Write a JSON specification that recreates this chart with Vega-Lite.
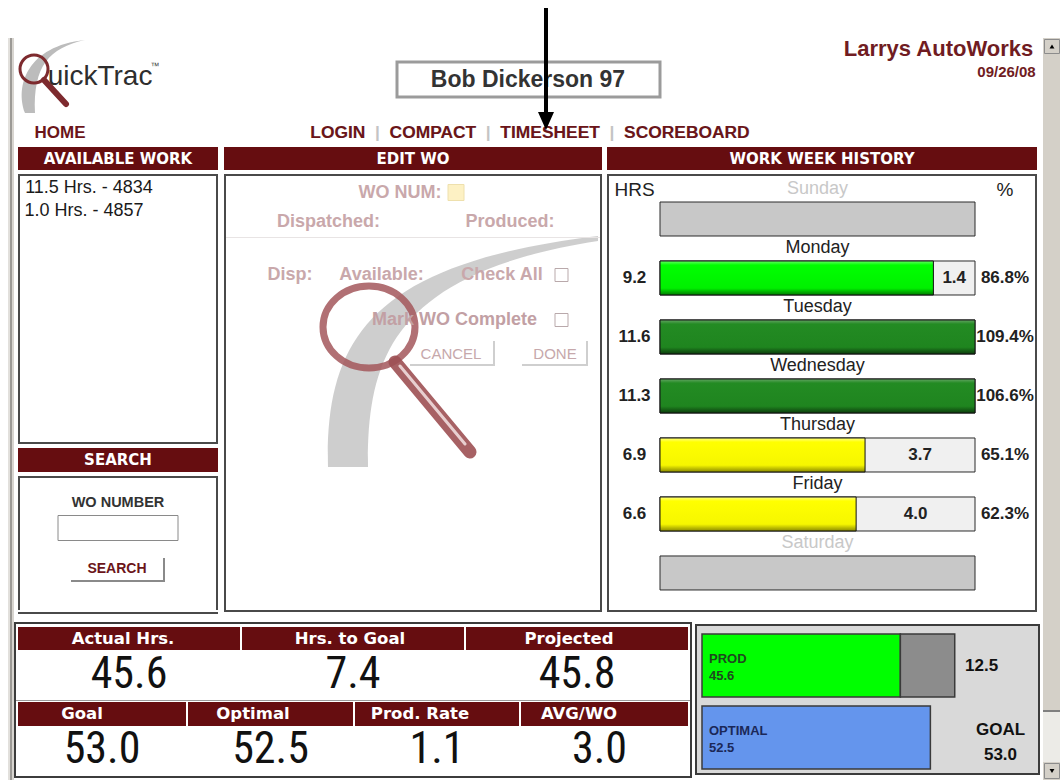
{
"$schema":"https://vega.github.io/schema/vega-lite/v6.json",
"padding":0,
"background":"#ffffff",
"config":{"view":{"stroke":null},"concat":{"spacing":0},"font":"Liberation Sans","text":{"font":"Liberation Sans"}},
"datasets":{
"week":[
{"day":"Sunday","hrs":null,"rem":null,"pct":null,"status":"off"},
{"day":"Monday","hrs":9.2,"rem":1.4,"pct":0.868,"status":"near"},
{"day":"Tuesday","hrs":11.6,"rem":null,"pct":1.094,"status":"over"},
{"day":"Wednesday","hrs":11.3,"rem":null,"pct":1.066,"status":"over"},
{"day":"Thursday","hrs":6.9,"rem":3.7,"pct":0.651,"status":"under"},
{"day":"Friday","hrs":6.6,"rem":4.0,"pct":0.623,"status":"under"},
{"day":"Saturday","hrs":null,"rem":null,"pct":null,"status":"off"}
],
"stats":[
{"metric":"Actual Hrs.","value":45.6},{"metric":"Hrs. to Goal","value":7.4},{"metric":"Projected","value":45.8},
{"metric":"Goal","value":53.0},{"metric":"Optimal","value":52.5},{"metric":"Prod. Rate","value":1.1},{"metric":"AVG/WO","value":3.0}
],
"gauge":[{"bar":"PROD","seg":"PROD","v":45.6},{"bar":"PROD","seg":"Available","v":12.5},{"bar":"OPTIMAL","seg":"OPTIMAL","v":52.5}]
},
"spacing":0,
"hconcat":[
{"spacing":0,"hconcat":[
 {"width":8,"height":780,"data":{"values":[]},"mark":"rect","encoding":{}},
 {"spacing":0,"vconcat":[
  {"width":6,"height":38,"data":{"values":[]},"mark":"rect","encoding":{}},
  {"spacing":0,"bounds":"flush","hconcat":[
   {"width":2,"height":742,"data":{"values":[{}]},"mark":{"type":"rect","fill":"#e2e0dc","strokeWidth":0},"encoding":{}},
   {"width":2,"height":742,"data":{"values":[{}]},"mark":{"type":"rect","fill":"#9c9a96","strokeWidth":0},"encoding":{}},
   {"width":2,"height":742,"data":{"values":[{}]},"mark":{"type":"rect","fill":"#d8d5d0","strokeWidth":0},"encoding":{}}
  ]}
 ]}
]},
{"spacing":0,"vconcat":[
 {"spacing":0,"hconcat":[
  {"spacing":0,"vconcat":[
   {"width":286,"height":38,"data":{"values":[]},"mark":"rect","encoding":{}},
   {"spacing":0,"bounds":"flush","hconcat":[
    {"width":4,"height":78,"data":{"values":[]},"mark":"rect","encoding":{}},
    {"width":158,"height":78,"data":{"values":[{"t":"uickTrac"}]},"layer":[
     {"mark":{"type":"point","shape":"M -72 36 C -82 9 -70 -31 -12 -37 C -48 -29 -64 -11 -62 36 Z","size":4,"filled":true,"fill":"#bcbcbc","strokeWidth":0,"opacity":1},"encoding":{}},
     {"mark":{"type":"point","shape":"M -49 -8 A 14 14 0 1 1 -77 -8 A 14 14 0 1 1 -49 -8 Z","size":4,"filled":false,"stroke":"#7d2a2e","strokeWidth":3,"opacity":1},"encoding":{}},
     {"mark":{"type":"point","shape":"M -53 3 L -31 27","size":4,"filled":false,"stroke":"#7d2a2e","strokeWidth":6,"strokeCap":"round","opacity":1},"encoding":{}},
     {"mark":{"type":"text","fontSize":28,"dx":3,"color":"#2e2e2e"},"encoding":{"text":{"field":"t"}}},
     {"mark":{"type":"text","text":"™","fontSize":9,"dx":58,"dy":-11,"color":"#444444"},"encoding":{}}
    ]},
    {"width":124,"height":78,"data":{"values":[]},"mark":"rect","encoding":{}}
   ]},
   {"width":286,"height":8,"data":{"values":[]},"mark":"rect","encoding":{}},
   {"spacing":0,"bounds":"flush","hconcat":[
    {"width":19,"height":18,"data":{"values":[]},"mark":"rect","encoding":{}},
    {"width":54,"height":18,"data":{"values":[{"t":"HOME"}]},"mark":{"type":"text","fontSize":17,"fontWeight":"bold","color":"#6b1519"},"encoding":{"text":{"field":"t"}}},
    {"width":213,"height":18,"data":{"values":[]},"mark":"rect","encoding":{}}
   ]},
   {"width":286,"height":4,"data":{"values":[]},"mark":"rect","encoding":{}}
  ]},
  {"spacing":0,"bounds":"flush","vconcat":[
   {"width":460,"height":62,"data":{"values":[]},"mark":"rect","encoding":{}},
   {"width":460,"height":35,"data":{"values":[{"t":"Bob Dickerson 97"}]},"layer":[
    {"mark":{"type":"point","shape":"M -133 -17.5 H 130 V 17.5 H -133 Z","size":4,"filled":true,"fill":"#ffffff","stroke":"#9b9b9b","strokeWidth":3,"opacity":1},"encoding":{}},
    {"mark":{"type":"text","fontSize":23,"fontWeight":"bold","color":"#333333","dx":-2},"encoding":{"text":{"field":"t"}}}
   ]},
   {"width":460,"height":27,"data":{"values":[]},"mark":"rect","encoding":{}},
   {"width":460,"height":18,"data":{"values":[{"sep":"LOGIN\u00a0\u00a0|\u00a0\u00a0COMPACT\u00a0\u00a0|\u00a0\u00a0TIMESHEET\u00a0\u00a0|\u00a0\u00a0SCOREBOARD","nav":"LOGIN\u00a0\u00a0\u00a0\u00a0\u00a0COMPACT\u00a0\u00a0\u00a0\u00a0\u00a0TIMESHEET\u00a0\u00a0\u00a0\u00a0\u00a0SCOREBOARD"}]},"layer":[
    {"mark":{"type":"text","fontSize":17.4,"fontWeight":"bold","color":"#c4c4c4"},"encoding":{"text":{"field":"sep"}}},
    {"mark":{"type":"text","fontSize":17.4,"fontWeight":"bold","color":"#6b1519"},"encoding":{"text":{"field":"nav"}}},
    {"mark":{"type":"point","shape":"M 14 -125 L 18 -125 L 18 -21 L 24 -21 L 16 -3 L 8 -21 L 14 -21 Z","size":4,"filled":true,"fill":"#000000","strokeWidth":0,"opacity":1},"encoding":{}}
   ]},
   {"width":460,"height":4,"data":{"values":[]},"mark":"rect","encoding":{}}
  ]},
  {"spacing":0,"vconcat":[
   {"width":282,"height":38,"data":{"values":[]},"mark":"rect","encoding":{}},
   {"spacing":0,"bounds":"flush","hconcat":[
    {"width":81,"height":22,"data":{"values":[]},"mark":"rect","encoding":{}},
    {"width":195,"height":22,"data":{"values":[{"t":"Larrys AutoWorks"}]},"mark":{"type":"text","fontSize":22,"fontWeight":"bold","color":"#701c22"},"encoding":{"text":{"field":"t"}}},
    {"width":6,"height":22,"data":{"values":[]},"mark":"rect","encoding":{}}
   ]},
   {"width":282,"height":4,"data":{"values":[]},"mark":"rect","encoding":{}},
   {"spacing":0,"bounds":"flush","hconcat":[
    {"width":216,"height":16,"data":{"values":[]},"mark":"rect","encoding":{}},
    {"width":61,"height":16,"data":{"values":[{"t":"09/26/08"}]},"mark":{"type":"text","fontSize":15,"fontWeight":"bold","color":"#701c22"},"encoding":{"text":{"field":"t"}}},
    {"width":5,"height":16,"data":{"values":[]},"mark":"rect","encoding":{}}
   ]},
   {"width":282,"height":66,"data":{"values":[]},"mark":"rect","encoding":{}}
  ]}
 ]},
 {"spacing":0,"hconcat":[
  {"width":4,"height":468,"data":{"values":[]},"mark":"rect","encoding":{}},
  {"spacing":0,"vconcat":[
   {"width":200,"height":1,"data":{"values":[]},"mark":"rect","encoding":{}},
   {"width":200,"height":23,"data":{"values":[{"t":"AVAILABLE WORK"}]},"layer":[{"mark":{"type":"rect","fill":"#660d10","strokeWidth":0},"encoding":{}},{"mark":{"type":"text","font":"DejaVu Sans","fontWeight":"bold","fontSize":15,"color":"#ffffff"},"encoding":{"text":{"field":"t"}}}]},
   {"width":200,"height":4,"data":{"values":[]},"mark":"rect","encoding":{}},
   {"spacing":0,"vconcat":[
    {"width":200,"height":2,"data":{"values":[{}]},"mark":{"type":"rect","fill":"#4a4a4a","strokeWidth":0},"encoding":{}},
    {"spacing":0,"hconcat":[
     {"width":2,"height":266,"data":{"values":[{}]},"mark":{"type":"rect","fill":"#4a4a4a","strokeWidth":0},"encoding":{}},
     {"spacing":0,"vconcat":[
      {"width":196,"height":3,"data":{"values":[]},"mark":"rect","encoding":{}},
      {"spacing":0,"bounds":"flush","hconcat":[
       {"width":3,"height":18,"data":{"values":[]},"mark":"rect","encoding":{}},
       {"width":132,"height":18,"data":{"values":[{"job":"11.5 Hrs. - 4834"}]},"mark":{"type":"text","fontSize":18,"color":"#1a1a1a"},"encoding":{"text":{"field":"job"}}},
       {"width":61,"height":18,"data":{"values":[]},"mark":"rect","encoding":{}}
      ]},
      {"width":196,"height":5,"data":{"values":[]},"mark":"rect","encoding":{}},
      {"spacing":0,"bounds":"flush","hconcat":[
       {"width":3,"height":18,"data":{"values":[]},"mark":"rect","encoding":{}},
       {"width":122,"height":18,"data":{"values":[{"job":"1.0 Hrs. - 4857"}]},"mark":{"type":"text","fontSize":18,"color":"#1a1a1a"},"encoding":{"text":{"field":"job"}}},
       {"width":71,"height":18,"data":{"values":[]},"mark":"rect","encoding":{}}
      ]},
      {"width":196,"height":222,"data":{"values":[]},"mark":"rect","encoding":{}}
     ]},
     {"width":2,"height":266,"data":{"values":[{}]},"mark":{"type":"rect","fill":"#4a4a4a","strokeWidth":0},"encoding":{}}
    ]},
    {"width":200,"height":2,"data":{"values":[{}]},"mark":{"type":"rect","fill":"#4a4a4a","strokeWidth":0},"encoding":{}}
   ]},
   {"width":200,"height":4,"data":{"values":[]},"mark":"rect","encoding":{}},
   {"width":200,"height":24,"data":{"values":[{"t":"SEARCH"}]},"layer":[{"mark":{"type":"rect","fill":"#660d10","strokeWidth":0},"encoding":{}},{"mark":{"type":"text","font":"DejaVu Sans","fontWeight":"bold","fontSize":15,"color":"#ffffff"},"encoding":{"text":{"field":"t"}}}]},
   {"width":200,"height":4,"data":{"values":[]},"mark":"rect","encoding":{}},
   {"spacing":0,"vconcat":[
    {"width":200,"height":2,"data":{"values":[{}]},"mark":{"type":"rect","fill":"#4a4a4a","strokeWidth":0},"encoding":{}},
    {"spacing":0,"hconcat":[
     {"width":2,"height":132,"data":{"values":[{}]},"mark":{"type":"rect","fill":"#4a4a4a","strokeWidth":0},"encoding":{}},
     {"spacing":0,"vconcat":[
      {"width":196,"height":17,"data":{"values":[]},"mark":"rect","encoding":{}},
      {"width":196,"height":16,"data":{"values":[{"t":"WO NUMBER"}]},"mark":{"type":"text","fontSize":14.5,"fontWeight":"bold","color":"#333333"},"encoding":{"text":{"field":"t"}}},
      {"width":196,"height":2,"data":{"values":[]},"mark":"rect","encoding":{}},
      {"width":196,"height":28,"data":{"values":[{}]},"mark":{"type":"point","shape":"M -60 -12.5 H 60 V 12.5 H -60 Z","size":4,"filled":true,"fill":"#ffffff","stroke":"#8a8a8a","strokeWidth":1,"opacity":1},"encoding":{}},
      {"width":196,"height":15,"data":{"values":[]},"mark":"rect","encoding":{}},
      {"spacing":0,"hconcat":[
       {"width":51,"height":24,"data":{"values":[]},"mark":"rect","encoding":{}},
       {"spacing":0,"vconcat":[
        {"spacing":0,"bounds":"flush","hconcat":[
         {"width":92,"height":22,"data":{"values":[{"t":"SEARCH"}]},"mark":{"type":"text","fontSize":14,"fontWeight":"bold","color":"#6b1519"},"encoding":{"text":{"field":"t"}}},
         {"width":2,"height":22,"data":{"values":[{}]},"mark":{"type":"rect","fill":"#8a8a8a","strokeWidth":0},"encoding":{}}
        ]},
        {"width":94,"height":2,"data":{"values":[{}]},"mark":{"type":"rect","fill":"#8a8a8a","strokeWidth":0},"encoding":{}}
       ]},
       {"width":51,"height":24,"data":{"values":[]},"mark":"rect","encoding":{}}
      ]},
      {"width":196,"height":30,"data":{"values":[]},"mark":"rect","encoding":{}}
     ]},
     {"width":2,"height":132,"data":{"values":[{}]},"mark":{"type":"rect","fill":"#4a4a4a","strokeWidth":0},"encoding":{}}
    ]},
    {"width":200,"height":2,"data":{"values":[{}]},"mark":{"type":"rect","fill":"#4a4a4a","strokeWidth":0},"encoding":{}}
   ]},
   {"width":200,"height":2,"data":{"values":[]},"mark":"rect","encoding":{}}
  ]},
  {"width":6,"height":468,"data":{"values":[]},"mark":"rect","encoding":{}},
  {"spacing":0,"vconcat":[
   {"width":378,"height":1,"data":{"values":[]},"mark":"rect","encoding":{}},
   {"width":378,"height":23,"data":{"values":[{"t":"EDIT WO"}]},"layer":[{"mark":{"type":"rect","fill":"#660d10","strokeWidth":0},"encoding":{}},{"mark":{"type":"text","font":"DejaVu Sans","fontWeight":"bold","fontSize":15,"color":"#ffffff"},"encoding":{"text":{"field":"t"}}}]},
   {"width":378,"height":4,"data":{"values":[]},"mark":"rect","encoding":{}},
   {"spacing":0,"vconcat":[
    {"width":378,"height":2,"data":{"values":[{}]},"mark":{"type":"rect","fill":"#4a4a4a","strokeWidth":0},"encoding":{}},
    {"spacing":0,"hconcat":[
     {"width":2,"height":434,"data":{"values":[{}]},"mark":{"type":"rect","fill":"#4a4a4a","strokeWidth":0},"encoding":{}},
     {"spacing":0,"bounds":"flush","vconcat":[
      {"width":374,"height":8,"data":{"values":[{}]},"layer":[
       {"mark":{"type":"point","shape":"M -85 287 C -88 158 -40 83 185 56 L 185 61 C -20 93 -46 178 -45 287 Z","size":4,"filled":true,"fill":"#c9c9c9","strokeWidth":0,"opacity":0.9},"encoding":{}},
       {"mark":{"type":"point","shape":"M 2 147 A 46 41 0 1 1 -90 147 A 46 41 0 1 1 2 147 Z","size":4,"filled":false,"stroke":"#a4585c","strokeWidth":7,"opacity":0.85},"encoding":{}},
       {"mark":{"type":"point","shape":"M -18 182 L 57 272","size":4,"filled":false,"stroke":"#9e5054","strokeWidth":13,"strokeCap":"round","opacity":0.9},"encoding":{}},
       {"mark":{"type":"point","shape":"M -13 186 L 52 264","size":4,"filled":false,"stroke":"#f0dcdc","strokeWidth":3,"strokeCap":"round","opacity":0.9},"encoding":{}}
      ]},
      {"width":374,"height":17,"data":{"values":[{"t":"WO NUM:"}]},"layer":[
       {"mark":{"type":"text","dx":-13,"fontSize":18,"fontWeight":"bold","color":"#c9a8ab"},"encoding":{"text":{"field":"t"}}},
       {"mark":{"type":"point","shape":"M 35 -8 H 51 V 8 H 35 Z","size":4,"filled":true,"fill":"#fdf1c4","stroke":"#eee0ad","strokeWidth":1,"opacity":1},"encoding":{}}
      ]},
      {"width":374,"height":12,"data":{"values":[]},"mark":"rect","encoding":{}},
      {"width":374,"height":18,"layer":[
       {"data":{"values":[{"t":"Dispatched:"}]},"mark":{"type":"text","dx":-84.5,"fontSize":18,"fontWeight":"bold","color":"#c9a8ab"},"encoding":{"text":{"field":"t"}}},
       {"data":{"values":[{"t":"Produced:"}]},"mark":{"type":"text","dx":97,"fontSize":18,"fontWeight":"bold","color":"#c9a8ab"},"encoding":{"text":{"field":"t"}}}
      ]},
      {"width":374,"height":6,"data":{"values":[]},"mark":"rect","encoding":{}},
      {"width":374,"height":1,"data":{"values":[{}]},"mark":{"type":"rect","fill":"#e8e4e4","strokeWidth":0},"encoding":{}},
      {"width":374,"height":28,"data":{"values":[]},"mark":"rect","encoding":{}},
      {"width":374,"height":18,"layer":[
       {"data":{"values":[{"t":"Disp:"}]},"mark":{"type":"text","dx":-123,"fontSize":18,"fontWeight":"bold","color":"#c9a8ab"},"encoding":{"text":{"field":"t"}}},
       {"data":{"values":[{"t":"Available:"}]},"mark":{"type":"text","dx":-31.5,"fontSize":18,"fontWeight":"bold","color":"#c9a8ab"},"encoding":{"text":{"field":"t"}}},
       {"data":{"values":[{"t":"Check All"}]},"mark":{"type":"text","dx":89,"fontSize":18,"fontWeight":"bold","color":"#c9a8ab"},"encoding":{"text":{"field":"t"}}},
       {"data":{"values":[{}]},"mark":{"type":"point","shape":"M 142 -6.5 H 155 V 6.5 H 142 Z","size":4,"filled":true,"fill":"#ffffff","stroke":"#b9a9ab","strokeWidth":1,"opacity":1},"encoding":{}}
      ]},
      {"width":374,"height":27,"data":{"values":[]},"mark":"rect","encoding":{}},
      {"width":374,"height":18,"layer":[
       {"data":{"values":[{"t":"Mark WO Complete"}]},"mark":{"type":"text","dx":41.5,"fontSize":18,"fontWeight":"bold","color":"#c2a0a4"},"encoding":{"text":{"field":"t"}}},
       {"data":{"values":[{}]},"mark":{"type":"point","shape":"M 142 -6.5 H 155 V 6.5 H 142 Z","size":4,"filled":true,"fill":"#ffffff","stroke":"#b9a9ab","strokeWidth":1,"opacity":1},"encoding":{}}
      ]},
      {"width":374,"height":12,"data":{"values":[]},"mark":"rect","encoding":{}},
      {"width":374,"height":25,"layer":[
       {"data":{"values":[{}]},"mark":{"type":"point","shape":"M 80 -12.5 H 82 V 12.5 H 80 Z M -3 10.5 H 82 V 12.5 H -3 Z M 173 -12.5 H 175 V 12.5 H 173 Z M 109 10.5 H 175 V 12.5 H 109 Z","size":4,"filled":true,"fill":"#cfcfcf","strokeWidth":0,"opacity":1},"encoding":{}},
       {"data":{"values":[{"t":"CANCEL"}]},"mark":{"type":"text","dx":38,"fontSize":15,"color":"#c6a8ab"},"encoding":{"text":{"field":"t"}}},
       {"data":{"values":[{"t":"DONE"}]},"mark":{"type":"text","dx":142,"fontSize":15,"color":"#c6a8ab"},"encoding":{"text":{"field":"t"}}}
      ]},
      {"width":374,"height":244,"data":{"values":[]},"mark":"rect","encoding":{}}
     ]},
     {"width":2,"height":434,"data":{"values":[{}]},"mark":{"type":"rect","fill":"#4a4a4a","strokeWidth":0},"encoding":{}}
    ]},
    {"width":378,"height":2,"data":{"values":[{}]},"mark":{"type":"rect","fill":"#4a4a4a","strokeWidth":0},"encoding":{}}
   ]},
   {"width":378,"height":2,"data":{"values":[]},"mark":"rect","encoding":{}}
  ]},
  {"width":5,"height":468,"data":{"values":[]},"mark":"rect","encoding":{}},
  {"spacing":0,"vconcat":[
   {"width":430,"height":1,"data":{"values":[]},"mark":"rect","encoding":{}},
   {"width":430,"height":23,"data":{"values":[{"t":"WORK WEEK HISTORY"}]},"layer":[{"mark":{"type":"rect","fill":"#660d10","strokeWidth":0},"encoding":{}},{"mark":{"type":"text","font":"DejaVu Sans","fontWeight":"bold","fontSize":15,"color":"#ffffff"},"encoding":{"text":{"field":"t"}}}]},
   {"width":430,"height":4,"data":{"values":[]},"mark":"rect","encoding":{}},
   {"spacing":0,"vconcat":[
    {"width":430,"height":2,"data":{"values":[{}]},"mark":{"type":"rect","fill":"#4a4a4a","strokeWidth":0},"encoding":{}},
    {"spacing":0,"bounds":"flush","hconcat":[
     {"width":2,"height":434,"data":{"values":[{}]},"mark":{"type":"rect","fill":"#4a4a4a","strokeWidth":0},"encoding":{}},
     {"width":51,"height":434,"data":{"name":"week"},"layer":[
      {"transform":[{"filter":"datum.hrs != null"}],"mark":{"type":"text","fontSize":17,"fontWeight":"bold","color":"#222222"},"encoding":{"y":{"field":"day","type":"nominal","sort":null,"axis":null,"scale":{"type":"band","domain":["Sunday","Monday","Tuesday","Wednesday","Thursday","Friday","Saturday"],"paddingInner":0.4237,"paddingOuter":0.39,"align":0.565}},"text":{"field":"hrs","type":"quantitative","format":".1f"}}},
      {"transform":[{"filter":"datum.day === 'Sunday'"}],"mark":{"type":"text","fontSize":19,"dy":-29,"color":"#222222"},"encoding":{"y":{"field":"day","type":"nominal","sort":null,"axis":null,"scale":{"type":"band","domain":["Sunday","Monday","Tuesday","Wednesday","Thursday","Friday","Saturday"],"paddingInner":0.4237,"paddingOuter":0.39,"align":0.565}},"text":{"value":"HRS"}}}
     ]},
     {"width":315,"height":434,"data":{"name":"week"},"layer":[
      {"mark":{"type":"rect","stroke":"#2b2b2b","strokeWidth":1},"encoding":{"y":{"field":"day","type":"nominal","sort":null,"axis":null,"scale":{"type":"band","domain":["Sunday","Monday","Tuesday","Wednesday","Thursday","Friday","Saturday"],"paddingInner":0.4237,"paddingOuter":0.39,"align":0.565}},"fill":{"condition":{"test":"datum.status === 'off'","value":"#c8c8c8"},"value":"#f0f0f0"}}},
      {"transform":[{"filter":"datum.status === 'near'"}],"mark":{"type":"bar","stroke":"#111111","strokeWidth":1,"fill":{"gradient":"linear","x1":0,"y1":0,"x2":0,"y2":1,"stops":[{"offset":0,"color":"#66ff66"},{"offset":0.12,"color":"#00ff00"},{"offset":0.8,"color":"#00f000"},{"offset":1,"color":"#007a00"}]}},"encoding":{"y":{"field":"day","type":"nominal","sort":null,"axis":null,"scale":{"type":"band","domain":["Sunday","Monday","Tuesday","Wednesday","Thursday","Friday","Saturday"],"paddingInner":0.4237,"paddingOuter":0.39,"align":0.565}},"x":{"field":"hrs","type":"quantitative","axis":null,"scale":{"domain":[0,10.6],"clamp":true,"nice":false,"zero":true}}}},
      {"transform":[{"filter":"datum.status === 'over'"}],"mark":{"type":"bar","stroke":"#111111","strokeWidth":1,"fill":{"gradient":"linear","x1":0,"y1":0,"x2":0,"y2":1,"stops":[{"offset":0,"color":"#64a564"},{"offset":0.12,"color":"#238b23"},{"offset":0.8,"color":"#1f851f"},{"offset":1,"color":"#0c3c0c"}]}},"encoding":{"y":{"field":"day","type":"nominal","sort":null,"axis":null,"scale":{"type":"band","domain":["Sunday","Monday","Tuesday","Wednesday","Thursday","Friday","Saturday"],"paddingInner":0.4237,"paddingOuter":0.39,"align":0.565}},"x":{"field":"hrs","type":"quantitative","axis":null,"scale":{"domain":[0,10.6],"clamp":true,"nice":false,"zero":true}}}},
      {"transform":[{"filter":"datum.status === 'under'"}],"mark":{"type":"bar","stroke":"#111111","strokeWidth":1,"fill":{"gradient":"linear","x1":0,"y1":0,"x2":0,"y2":1,"stops":[{"offset":0,"color":"#ffff88"},{"offset":0.12,"color":"#ffff00"},{"offset":0.8,"color":"#f6f600"},{"offset":1,"color":"#8a8a00"}]}},"encoding":{"y":{"field":"day","type":"nominal","sort":null,"axis":null,"scale":{"type":"band","domain":["Sunday","Monday","Tuesday","Wednesday","Thursday","Friday","Saturday"],"paddingInner":0.4237,"paddingOuter":0.39,"align":0.565}},"x":{"field":"hrs","type":"quantitative","axis":null,"scale":{"domain":[0,10.6],"clamp":true,"nice":false,"zero":true}}}},
      {"transform":[{"filter":"datum.hrs != null"},{"fold":["hrs","rem"],"as":["seg","v"]},{"filter":"datum.v != null"}],"mark":{"type":"text","fontSize":17,"fontWeight":"bold","color":"#222222"},"encoding":{"y":{"field":"day","type":"nominal","sort":null,"axis":null,"scale":{"type":"band","domain":["Sunday","Monday","Tuesday","Wednesday","Thursday","Friday","Saturday"],"paddingInner":0.4237,"paddingOuter":0.39,"align":0.565}},"x":{"field":"v","type":"quantitative","stack":"zero","bandPosition":0.5,"axis":null,"scale":{"domain":[0,10.6],"clamp":true,"nice":false,"zero":true}},"detail":{"field":"seg"},"order":{"field":"seg","type":"ordinal","sort":"ascending"},"text":{"condition":{"test":"datum.seg === 'rem'","field":"v","type":"quantitative","format":".1f"},"value":""}}},
      {"mark":{"type":"text","fontSize":18,"dy":-30},"encoding":{"y":{"field":"day","type":"nominal","sort":null,"axis":null,"scale":{"type":"band","domain":["Sunday","Monday","Tuesday","Wednesday","Thursday","Friday","Saturday"],"paddingInner":0.4237,"paddingOuter":0.39,"align":0.565}},"text":{"field":"day"},"color":{"condition":{"test":"datum.status === 'off'","value":"#c8c8c8"},"value":"#222222"}}}
     ]},
     {"width":60,"height":434,"data":{"name":"week"},"layer":[
      {"transform":[{"filter":"datum.pct != null"}],"mark":{"type":"text","fontSize":17,"fontWeight":"bold","color":"#222222"},"encoding":{"y":{"field":"day","type":"nominal","sort":null,"axis":null,"scale":{"type":"band","domain":["Sunday","Monday","Tuesday","Wednesday","Thursday","Friday","Saturday"],"paddingInner":0.4237,"paddingOuter":0.39,"align":0.565}},"text":{"field":"pct","type":"quantitative","format":".1%"}}},
      {"transform":[{"filter":"datum.day === 'Sunday'"}],"mark":{"type":"text","fontSize":19,"dy":-29,"color":"#222222"},"encoding":{"y":{"field":"day","type":"nominal","sort":null,"axis":null,"scale":{"type":"band","domain":["Sunday","Monday","Tuesday","Wednesday","Thursday","Friday","Saturday"],"paddingInner":0.4237,"paddingOuter":0.39,"align":0.565}},"text":{"value":"%"}}}
     ]},
     {"width":2,"height":434,"data":{"values":[{}]},"mark":{"type":"rect","fill":"#4a4a4a","strokeWidth":0},"encoding":{}}
    ]},
    {"width":430,"height":2,"data":{"values":[{}]},"mark":{"type":"rect","fill":"#4a4a4a","strokeWidth":0},"encoding":{}}
   ]},
   {"width":430,"height":2,"data":{"values":[]},"mark":"rect","encoding":{}}
  ]},
  {"width":5,"height":468,"data":{"values":[]},"mark":"rect","encoding":{}}
 ]},
 {"spacing":0,"hconcat":[
  {"spacing":0,"vconcat":[
   {"width":678,"height":6,"data":{"values":[]},"mark":"rect","encoding":{}},
   {"width":678,"height":2,"data":{"values":[{}]},"mark":{"type":"rect","fill":"#3c3c3c","strokeWidth":0},"encoding":{}},
   {"spacing":0,"hconcat":[
    {"width":2,"height":152,"data":{"values":[{}]},"mark":{"type":"rect","fill":"#3c3c3c","strokeWidth":0},"encoding":{}},
    {"spacing":0,"vconcat":[
     {"width":674,"height":3,"data":{"values":[]},"mark":"rect","encoding":{}},
     {"spacing":0,"bounds":"flush","hconcat":[
      {"width":2,"height":23,"data":{"values":[]},"mark":"rect","encoding":{}},
      {"width":210,"height":23,"data":{"values":[{"t":"Actual Hrs."}]},"layer":[{"mark":{"type":"rect","fill":"#660d10","strokeWidth":0},"encoding":{}},{"mark":{"type":"text","font":"DejaVu Sans","fontWeight":"bold","fontSize":16.5,"color":"#ffffff"},"encoding":{"text":{"field":"t"}}}]},
      {"width":12,"height":23,"data":{"values":[{}]},"mark":{"type":"rect","fill":"#660d10","strokeWidth":0},"encoding":{}},
      {"width":2,"height":23,"data":{"values":[]},"mark":"rect","encoding":{}},
      {"width":216,"height":23,"data":{"values":[{"t":"Hrs. to Goal"}]},"layer":[{"mark":{"type":"rect","fill":"#660d10","strokeWidth":0},"encoding":{}},{"mark":{"type":"text","font":"DejaVu Sans","fontWeight":"bold","fontSize":16.5,"color":"#ffffff"},"encoding":{"text":{"field":"t"}}}]},
      {"width":6,"height":23,"data":{"values":[{}]},"mark":{"type":"rect","fill":"#660d10","strokeWidth":0},"encoding":{}},
      {"width":2,"height":23,"data":{"values":[]},"mark":"rect","encoding":{}},
      {"width":206,"height":23,"data":{"values":[{"t":"Projected"}]},"layer":[{"mark":{"type":"rect","fill":"#660d10","strokeWidth":0},"encoding":{}},{"mark":{"type":"text","font":"DejaVu Sans","fontWeight":"bold","fontSize":16.5,"color":"#ffffff"},"encoding":{"text":{"field":"t"}}}]},
      {"width":16,"height":23,"data":{"values":[{}]},"mark":{"type":"rect","fill":"#660d10","strokeWidth":0},"encoding":{}},
      {"width":2,"height":23,"data":{"values":[]},"mark":"rect","encoding":{}}
     ]},
     {"spacing":0,"bounds":"flush","hconcat":[
      {"width":2,"height":49,"data":{"values":[]},"mark":"rect","encoding":{}},
      {"width":222,"height":49,"data":{"name":"stats"},"transform":[{"filter":"datum.metric === 'Actual Hrs.'"}],"mark":{"type":"text","font":"Liberation Sans Narrow, Arial Narrow, Noto Sans Condensed, Noto Sans SemiCondensed, Roboto Condensed, DejaVu Sans Condensed","fontSize":44,"color":"#111111"},"encoding":{"text":{"field":"value","type":"quantitative","format":".1f"}}},
      {"width":2,"height":49,"data":{"values":[]},"mark":"rect","encoding":{}},
      {"width":222,"height":49,"data":{"name":"stats"},"transform":[{"filter":"datum.metric === 'Hrs. to Goal'"}],"mark":{"type":"text","font":"Liberation Sans Narrow, Arial Narrow, Noto Sans Condensed, Noto Sans SemiCondensed, Roboto Condensed, DejaVu Sans Condensed","fontSize":44,"color":"#111111"},"encoding":{"text":{"field":"value","type":"quantitative","format":".1f"}}},
      {"width":2,"height":49,"data":{"values":[]},"mark":"rect","encoding":{}},
      {"width":222,"height":49,"data":{"name":"stats"},"transform":[{"filter":"datum.metric === 'Projected'"}],"mark":{"type":"text","font":"Liberation Sans Narrow, Arial Narrow, Noto Sans Condensed, Noto Sans SemiCondensed, Roboto Condensed, DejaVu Sans Condensed","fontSize":44,"color":"#111111"},"encoding":{"text":{"field":"value","type":"quantitative","format":".1f"}}},
      {"width":2,"height":49,"data":{"values":[]},"mark":"rect","encoding":{}}
     ]},
     {"width":674,"height":1,"data":{"values":[]},"mark":"rect","encoding":{}},
     {"width":674,"height":1,"data":{"values":[{}]},"mark":{"type":"rect","fill":"#9a9a9a","strokeWidth":0},"encoding":{}},
     {"width":674,"height":1,"data":{"values":[]},"mark":"rect","encoding":{}},
     {"spacing":0,"bounds":"flush","hconcat":[
      {"width":2,"height":24,"data":{"values":[]},"mark":"rect","encoding":{}},
      {"width":128,"height":24,"data":{"values":[{"t":"Goal"}]},"layer":[{"mark":{"type":"rect","fill":"#660d10","strokeWidth":0},"encoding":{}},{"mark":{"type":"text","font":"DejaVu Sans","fontWeight":"bold","fontSize":16.5,"color":"#ffffff"},"encoding":{"text":{"field":"t"}}}]},
      {"width":40,"height":24,"data":{"values":[{}]},"mark":{"type":"rect","fill":"#660d10","strokeWidth":0},"encoding":{}},
      {"width":2,"height":24,"data":{"values":[]},"mark":"rect","encoding":{}},
      {"width":130,"height":24,"data":{"values":[{"t":"Optimal"}]},"layer":[{"mark":{"type":"rect","fill":"#660d10","strokeWidth":0},"encoding":{}},{"mark":{"type":"text","font":"DejaVu Sans","fontWeight":"bold","fontSize":16.5,"color":"#ffffff"},"encoding":{"text":{"field":"t"}}}]},
      {"width":35,"height":24,"data":{"values":[{}]},"mark":{"type":"rect","fill":"#660d10","strokeWidth":0},"encoding":{}},
      {"width":2,"height":24,"data":{"values":[]},"mark":"rect","encoding":{}},
      {"width":130,"height":24,"data":{"values":[{"t":"Prod. Rate"}]},"layer":[{"mark":{"type":"rect","fill":"#660d10","strokeWidth":0},"encoding":{}},{"mark":{"type":"text","font":"DejaVu Sans","fontWeight":"bold","fontSize":16.5,"color":"#ffffff"},"encoding":{"text":{"field":"t"}}}]},
      {"width":34,"height":24,"data":{"values":[{}]},"mark":{"type":"rect","fill":"#660d10","strokeWidth":0},"encoding":{}},
      {"width":2,"height":24,"data":{"values":[]},"mark":"rect","encoding":{}},
      {"width":116,"height":24,"data":{"values":[{"t":"AVG/WO"}]},"layer":[{"mark":{"type":"rect","fill":"#660d10","strokeWidth":0},"encoding":{}},{"mark":{"type":"text","font":"DejaVu Sans","fontWeight":"bold","fontSize":16.5,"color":"#ffffff"},"encoding":{"text":{"field":"t"}}}]},
      {"width":51,"height":24,"data":{"values":[{}]},"mark":{"type":"rect","fill":"#660d10","strokeWidth":0},"encoding":{}},
      {"width":2,"height":24,"data":{"values":[]},"mark":"rect","encoding":{}}
     ]},
     {"spacing":0,"bounds":"flush","hconcat":[
      {"width":2,"height":47,"data":{"values":[]},"mark":"rect","encoding":{}},
      {"width":168,"height":47,"data":{"name":"stats"},"transform":[{"filter":"datum.metric === 'Goal'"}],"mark":{"type":"text","font":"Liberation Sans Narrow, Arial Narrow, Noto Sans Condensed, Noto Sans SemiCondensed, Roboto Condensed, DejaVu Sans Condensed","fontSize":44,"color":"#111111"},"encoding":{"text":{"field":"value","type":"quantitative","format":".1f"}}},
      {"width":2,"height":47,"data":{"values":[]},"mark":"rect","encoding":{}},
      {"width":165,"height":47,"data":{"name":"stats"},"transform":[{"filter":"datum.metric === 'Optimal'"}],"mark":{"type":"text","font":"Liberation Sans Narrow, Arial Narrow, Noto Sans Condensed, Noto Sans SemiCondensed, Roboto Condensed, DejaVu Sans Condensed","fontSize":44,"color":"#111111"},"encoding":{"text":{"field":"value","type":"quantitative","format":".1f"}}},
      {"width":2,"height":47,"data":{"values":[]},"mark":"rect","encoding":{}},
      {"width":164,"height":47,"data":{"name":"stats"},"transform":[{"filter":"datum.metric === 'Prod. Rate'"}],"mark":{"type":"text","font":"Liberation Sans Narrow, Arial Narrow, Noto Sans Condensed, Noto Sans SemiCondensed, Roboto Condensed, DejaVu Sans Condensed","fontSize":44,"color":"#111111"},"encoding":{"text":{"field":"value","type":"quantitative","format":".1f"}}},
      {"width":2,"height":47,"data":{"values":[]},"mark":"rect","encoding":{}},
      {"width":157,"height":47,"data":{"name":"stats"},"transform":[{"filter":"datum.metric === 'AVG/WO'"}],"mark":{"type":"text","font":"Liberation Sans Narrow, Arial Narrow, Noto Sans Condensed, Noto Sans SemiCondensed, Roboto Condensed, DejaVu Sans Condensed","fontSize":44,"color":"#111111"},"encoding":{"text":{"field":"value","type":"quantitative","format":".1f"}}},
      {"width":12,"height":47,"data":{"values":[]},"mark":"rect","encoding":{}}
     ]},
     {"width":674,"height":3,"data":{"values":[]},"mark":"rect","encoding":{}}
    ]},
    {"width":2,"height":152,"data":{"values":[{}]},"mark":{"type":"rect","fill":"#3c3c3c","strokeWidth":0},"encoding":{}}
   ]},
   {"width":678,"height":2,"data":{"values":[{}]},"mark":{"type":"rect","fill":"#3c3c3c","strokeWidth":0},"encoding":{}},
   {"width":678,"height":4,"data":{"values":[]},"mark":"rect","encoding":{}}
  ]},
  {"width":3,"height":166,"data":{"values":[]},"mark":"rect","encoding":{}},
  {"spacing":0,"vconcat":[
   {"width":345,"height":8,"data":{"values":[]},"mark":"rect","encoding":{}},
   {"width":345,"height":2,"data":{"values":[{}]},"mark":{"type":"rect","fill":"#3c3c3c","strokeWidth":0},"encoding":{}},
   {"spacing":0,"bounds":"flush","hconcat":[
    {"width":2,"height":147,"data":{"values":[{}]},"mark":{"type":"rect","fill":"#3c3c3c","strokeWidth":0},"encoding":{}},
    {"width":5,"height":147,"data":{"values":[{}]},"mark":{"type":"rect","fill":"#d9d9d9","strokeWidth":0},"encoding":{}},
    {"width":261,"height":147,"data":{"name":"gauge"},"layer":[
     {"data":{"values":[{}]},"mark":{"type":"rect","fill":"#d9d9d9","strokeWidth":0},"encoding":{}},
     {"mark":{"type":"bar","stroke":"#3a3a3a","strokeWidth":1.5},"encoding":{"y":{"field":"bar","type":"nominal","axis":null,"scale":{"type":"band","domain":["PROD","OPTIMAL"],"paddingInner":0.125,"paddingOuter":0.0833,"align":0.667}},"x":{"field":"v","type":"quantitative","stack":"zero","axis":null,"scale":{"domain":[0,60],"nice":false,"zero":true}},"color":{"field":"seg","type":"nominal","legend":null,"scale":{"domain":["PROD","Available","OPTIMAL"],"range":["#00ff00","#8c8c8c","#6495ed"]}},"order":{"field":"seg","type":"ordinal","sort":"descending"}}},
     {"transform":[{"filter":"datum.seg !== 'Available'"}],"mark":{"type":"text","align":"left","dx":7,"dy":-7,"fontSize":13,"fontWeight":"bold"},"encoding":{"y":{"field":"bar","type":"nominal","axis":null,"scale":{"type":"band","domain":["PROD","OPTIMAL"],"paddingInner":0.125,"paddingOuter":0.0833,"align":0.667}},"x":{"datum":0,"type":"quantitative"},"text":{"field":"seg"},"color":{"condition":{"test":"datum.seg === 'PROD'","value":"#1e4a1e"},"value":"#1b2858"}}},
     {"transform":[{"filter":"datum.seg !== 'Available'"}],"mark":{"type":"text","align":"left","dx":7,"dy":10,"fontSize":13,"fontWeight":"bold"},"encoding":{"y":{"field":"bar","type":"nominal","axis":null,"scale":{"type":"band","domain":["PROD","OPTIMAL"],"paddingInner":0.125,"paddingOuter":0.0833,"align":0.667}},"x":{"datum":0,"type":"quantitative"},"text":{"field":"v","type":"quantitative","format":".1f"},"color":{"condition":{"test":"datum.seg === 'PROD'","value":"#1e4a1e"},"value":"#1b2858"}}}
    ]},
    {"width":75,"height":147,"data":{"name":"gauge"},"layer":[
     {"data":{"values":[{}]},"mark":{"type":"rect","fill":"#d9d9d9","strokeWidth":0},"encoding":{}},
     {"transform":[{"filter":"datum.seg === 'Available'"}],"mark":{"type":"text","align":"left","dx":2,"fontSize":17,"fontWeight":"bold","color":"#111111"},"encoding":{"y":{"field":"bar","type":"nominal","axis":null,"scale":{"type":"band","domain":["PROD","OPTIMAL"],"paddingInner":0.125,"paddingOuter":0.0833,"align":0.667}},"x":{"datum":0,"type":"quantitative","axis":null,"scale":{"domain":[0,1]}},"text":{"field":"v","type":"quantitative","format":".1f"}}},
     {"data":{"name":"stats"},"transform":[{"filter":"datum.metric === 'Goal'"}],"mark":{"type":"text","dy":-8,"fontSize":17,"fontWeight":"bold","color":"#111111"},"encoding":{"y":{"datum":"OPTIMAL","type":"nominal","axis":null,"scale":{"type":"band","domain":["PROD","OPTIMAL"],"paddingInner":0.125,"paddingOuter":0.0833,"align":0.667}},"text":{"value":"GOAL"}}},
     {"data":{"name":"stats"},"transform":[{"filter":"datum.metric === 'Goal'"}],"mark":{"type":"text","dy":17,"fontSize":17,"fontWeight":"bold","color":"#111111"},"encoding":{"y":{"datum":"OPTIMAL","type":"nominal","axis":null,"scale":{"type":"band","domain":["PROD","OPTIMAL"],"paddingInner":0.125,"paddingOuter":0.0833,"align":0.667}},"text":{"field":"value","type":"quantitative","format":".1f"}}}
    ]},
    {"width":2,"height":147,"data":{"values":[{}]},"mark":{"type":"rect","fill":"#3c3c3c","strokeWidth":0},"encoding":{}}
   ]},
   {"width":345,"height":2,"data":{"values":[{}]},"mark":{"type":"rect","fill":"#3c3c3c","strokeWidth":0},"encoding":{}},
   {"width":345,"height":7,"data":{"values":[]},"mark":"rect","encoding":{}}
  ]},
  {"width":2,"height":166,"data":{"values":[]},"mark":"rect","encoding":{}}
 ]}
]},
{"spacing":0,"bounds":"flush","vconcat":[
 {"width":18,"height":38,"data":{"values":[]},"mark":"rect","encoding":{}},
 {"width":18,"height":17,"data":{"values":[{}]},"layer":[{"mark":{"type":"rect","fill":"#d4d0c8","strokeWidth":0},"encoding":{}},{"mark":{"type":"point","shape":"M -7.5 -7 H 7.5 V 7 H -7.5 Z","size":4,"filled":false,"stroke":"#8c8c8c","strokeWidth":1,"opacity":1},"encoding":{}},{"mark":{"type":"point","shape":"triangle-up","filled":true,"fill":"#000000","size":24,"opacity":1,"strokeWidth":0},"encoding":{}}]},
 {"width":18,"height":655,"data":{"values":[{}]},"mark":{"type":"rect","fill":"#d4d0c8","strokeWidth":0},"encoding":{}},
 {"width":18,"height":2,"data":{"values":[{}]},"mark":{"type":"rect","fill":"#808080","strokeWidth":0},"encoding":{}},
 {"width":18,"height":50,"data":{"values":[{}]},"mark":{"type":"rect","fill":"#ecebe7","strokeWidth":0},"encoding":{}},
 {"width":18,"height":18,"data":{"values":[{}]},"layer":[{"mark":{"type":"rect","fill":"#d4d0c8","strokeWidth":0},"encoding":{}},{"mark":{"type":"point","shape":"M -7.5 -7.5 H 7.5 V 7.5 H -7.5 Z","size":4,"filled":false,"stroke":"#8c8c8c","strokeWidth":1,"opacity":1},"encoding":{}},{"mark":{"type":"point","shape":"triangle-down","filled":true,"fill":"#000000","size":24,"opacity":1,"strokeWidth":0},"encoding":{}}]}
]}
]
}
